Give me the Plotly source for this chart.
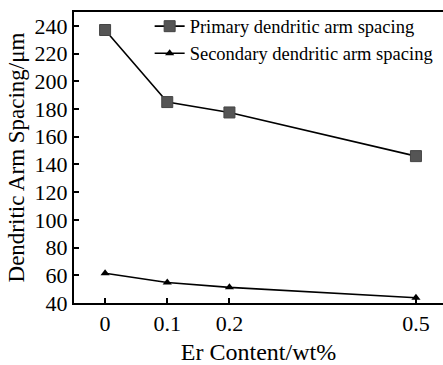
import plotly.graph_objects as go

er_content = [0, 0.1, 0.2, 0.5]
primary = [237, 185, 177.5, 146]
secondary = [61.5, 54.8, 51.3, 43.8]
x_ticks = [0, 0.1, 0.2, 0.5]
x_tick_text = ["0", "0.1", "0.2", "0.5"]
y_ticks = list(range(40, 241, 20))

FONT = "Liberation Serif, Times New Roman, serif"

fig = go.Figure()
fig.add_trace(go.Scatter(
    x=er_content, y=primary, mode="lines+markers",
    name="Primary dendritic arm spacing",
    line=dict(color="black", width=1.6),
    marker=dict(symbol="square", size=11, color="#555555",
                line=dict(color="#444444", width=1)),
))
fig.add_trace(go.Scatter(
    x=er_content, y=secondary, mode="lines+markers",
    name="Secondary dendritic arm spacing",
    line=dict(color="black", width=1.6),
    marker=dict(symbol="triangle-up", size=8, color="black"),
))

fig.update_layout(
    width=443, height=365,
    margin=dict(l=74, r=0, t=12, b=62),
    paper_bgcolor="white", plot_bgcolor="white",
    font=dict(family=FONT, color="black", size=20),
    showlegend=True,
    legend=dict(x=0.205, y=1.015, xanchor="left", yanchor="top",
                bgcolor="rgba(0,0,0,0)", font=dict(size=18.5, family=FONT),
                tracegroupgap=0, itemwidth=30),
)
fig.update_xaxes(
    range=[-0.05, 0.5435], tickvals=x_ticks, ticktext=x_tick_text,
    showline=True, linecolor="black", linewidth=2, mirror=True,
    ticks="inside", ticklen=5, tickwidth=1.5, tickcolor="black",
    showgrid=False, zeroline=False,
    tickfont=dict(size=22, family=FONT),
    title=dict(text="Er Content/wt%", font=dict(size=24, family=FONT), standoff=10),
)
fig.update_yaxes(
    range=[40, 250], tickvals=y_ticks,
    showline=True, linecolor="black", linewidth=2, mirror=False,
    ticks="inside", ticklen=5, tickwidth=1.5, tickcolor="black",
    showgrid=False, zeroline=False,
    tickfont=dict(size=22, family=FONT),
    title=dict(text="Dendritic Arm Spacing/μm", font=dict(size=23, family=FONT), standoff=4),
)

fig.write_html("out.html")
